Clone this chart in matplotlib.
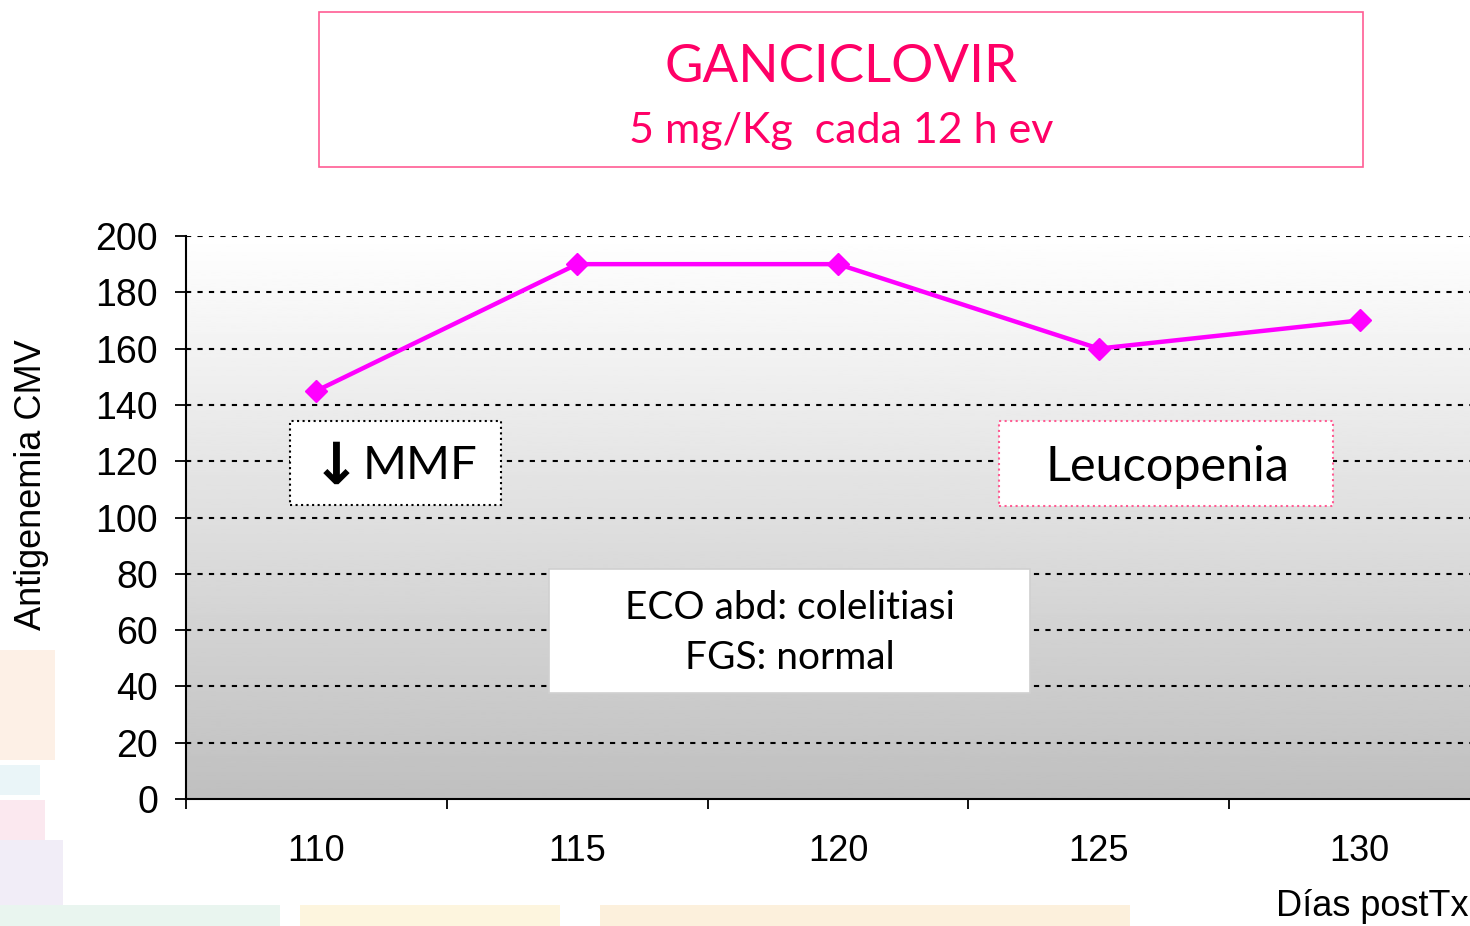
import numpy as np
import matplotlib
matplotlib.use("Agg")
import matplotlib.pyplot as plt
from matplotlib.patches import Rectangle

# data
dias = ["110", "115", "120", "125", "130"]
antigenemia = [145, 190, 190, 160, 170]
y_ticks = [0, 20, 40, 60, 80, 100, 120, 140, 160, 180, 200]

W, H = 1470, 926
magenta = "#ff00ff"
pink_txt = "#ff0066"
pink_box = "#ff5c93"


def px(x, y):
    return x / W, 1 - y / H


fig = plt.figure(figsize=(W / 100, H / 100), dpi=100)


def patch(x0, y0, x1, y1, fc, ec="none", ls="-", lw=1.2, z=2):
    bl = px(x0, y1)
    tr = px(x1, y0)
    fig.patches.append(Rectangle(bl, tr[0] - bl[0], tr[1] - bl[1], transform=fig.transFigure,
                                 facecolor=fc, edgecolor=ec, linestyle=ls, lw=lw, zorder=z))


# faint logo colours peeking out at the left and bottom edges
logo = [(0, 650, 55, 760, "#fdf0e6"), (0, 765, 40, 795, "#eaf5f8"),
        (0, 800, 45, 840, "#fbe8ef"), (0, 840, 63, 905, "#f1edf7"),
        (0, 905, 280, 926, "#e9f5ef"), (300, 905, 560, 926, "#fdf5de"),
        (600, 905, 1130, 926, "#fcf0dc")]
for x0, y0, x1, y1, c in logo:
    patch(x0, y0, x1, y1, c, z=-3)

# axes: plot area from x=186 to beyond right edge, y from 236 to 799
l, b = px(186, 799)
r, t = px(1490, 236)
ax = fig.add_axes([l, b, r - l, t - b])
ax.set_zorder(1)

x = np.arange(len(dias))
ax.set_xlim(-0.5, len(dias) - 0.5)
ax.set_ylim(0, 200)

# background gradient
grad = np.linspace(0.75, 1.0, 256).reshape(-1, 1)
ax.imshow(grad, extent=[-0.5, len(dias) - 0.5, 0, 200], origin="lower",
          aspect="auto", cmap="gray", vmin=0, vmax=1, zorder=0)

for yv in y_ticks[1:]:
    ax.axhline(yv, color="black", lw=1.5, ls=(0, (2.5, 3)), zorder=1)

ax.plot(x, antigenemia, color=magenta, lw=3.2, marker="D", markersize=11, zorder=3)

for s in ["top", "right"]:
    ax.spines[s].set_visible(False)
ax.spines["left"].set_linewidth(1.5)
ax.spines["bottom"].set_linewidth(1.5)

ax.set_yticks(y_ticks)
ax.set_yticklabels([str(v) for v in y_ticks], fontfamily="Liberation Sans", fontsize=27)
ax.tick_params(axis="y", direction="out", length=8, width=1.3, pad=12)

ax.set_xticks(np.arange(-0.5, len(dias), 1.0))
ax.set_xticklabels([])
ax.tick_params(axis="x", which="major", direction="out", length=7, width=1.3)
ax.set_xticks(x, minor=True)
ax.set_xticklabels(dias, minor=True, fontfamily="Liberation Sans", fontsize=26)
ax.tick_params(axis="x", which="minor", length=0, pad=25)

fig.text(*px(32, 485), "Antigenemia CMV", rotation=90, ha="center", va="center",
         fontfamily="Liberation Sans", fontsize=26)
fig.text(*px(1276, 907), "Días postTx", ha="left", va="center",
         fontfamily="Liberation Sans", fontsize=26)

# title box
patch(319, 12, 1363, 167, "white", pink_box)
fig.text(*px(841, 68), "GANCICLOVIR", ha="center", va="center", color=pink_txt,
         fontfamily="Lato", fontsize=38)
fig.text(*px(841, 131), "5 mg/Kg  cada 12 h ev", ha="center", va="center", color=pink_txt,
         fontfamily="Lato", fontsize=31)

# annotation boxes
patch(290, 421, 501, 505, "white", "black", ":", 1.5)
fig.text(*px(336, 467), "↓", ha="center", va="center", color="black",
         fontfamily="DejaVu Sans", fontsize=42, fontweight="bold", zorder=4)
fig.text(*px(420, 466), "MMF", ha="center", va="center", color="black",
         fontfamily="Lato", fontsize=34, zorder=4)

patch(999, 421, 1333, 506, "white", pink_box, ":", 1.5)
fig.text(*px(1167, 467), "Leucopenia", ha="center", va="center", color="black",
         fontfamily="Lato", fontsize=35, zorder=4)

patch(549, 569, 1030, 693, "white", "#d0d0d0")
fig.text(*px(790, 608), "ECO abd: colelitiasi", ha="center", va="center", color="black",
         fontfamily="Lato", fontsize=28, zorder=4)
fig.text(*px(790, 658), "FGS: normal", ha="center", va="center", color="black",
         fontfamily="Lato", fontsize=28, zorder=4)

fig.savefig("out.png", dpi=100)
